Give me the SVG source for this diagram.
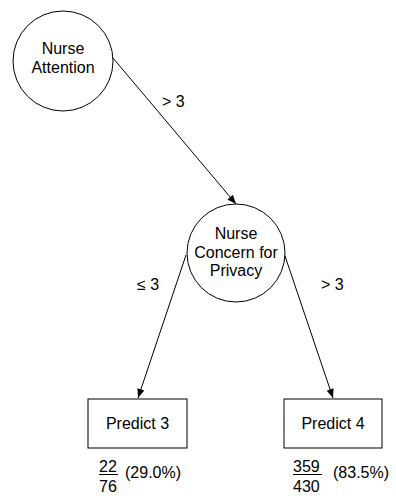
<svg xmlns="http://www.w3.org/2000/svg" width="396" height="496" viewBox="0 0 396 496">
<style>
text{font-family:"Liberation Sans",Arial,sans-serif;font-size:16px;fill:#000}
.n{fill:#fff;stroke:#000;stroke-width:1}
.e{stroke:#000;stroke-width:1;fill:none;marker-end:url(#a)}
.m{text-anchor:middle}
</style>
<defs>
<marker id="a" viewBox="0 0 10 10" refX="10" refY="5" markerWidth="10" markerHeight="9" markerUnits="userSpaceOnUse" orient="auto">
<path d="M0,1 L10,5 L0,9 Z" fill="#000"/>
</marker>
</defs>
<rect width="396" height="496" fill="#fff"/>
<g id="edges">
<line class="e" x1="113" y1="58" x2="236" y2="204"/>
<line class="e" x1="186" y1="255" x2="138" y2="398"/>
<line class="e" x1="285" y1="256" x2="333" y2="398"/>
<text x="162" y="106.5">&gt; 3</text>
<text x="137" y="290">≤ 3</text>
<text x="321" y="290">&gt; 3</text>
</g>
<g id="n1">
<circle class="n" cx="63" cy="61" r="50"/>
<text class="m" x="63" y="53.5">Nurse</text>
<text class="m" x="63" y="72.5">Attention</text>
</g>
<g id="n2">
<circle class="n" cx="236" cy="253" r="49"/>
<text class="m" x="236" y="238.5">Nurse</text>
<text class="m" x="236" y="257.5">Concern for</text>
<text class="m" x="236" y="276">Privacy</text>
</g>
<g id="p3">
<rect class="n" x="88" y="399" width="99" height="49"/>
<text class="m" x="137.5" y="428.5">Predict 3</text>
<text x="99" y="472">22</text>
<line x1="99" y1="474.5" x2="118" y2="474.5" stroke="#000"/>
<text x="99" y="492">76</text>
<text x="125" y="478">(29.0%)</text>
</g>
<g id="p4">
<rect class="n" x="284" y="399" width="98" height="49"/>
<text class="m" x="333" y="428.5">Predict 4</text>
<text x="293" y="472">359</text>
<line x1="293" y1="474.5" x2="322" y2="474.5" stroke="#000"/>
<text x="293" y="492">430</text>
<text x="333" y="478">(83.5%)</text>
</g>
</svg>
